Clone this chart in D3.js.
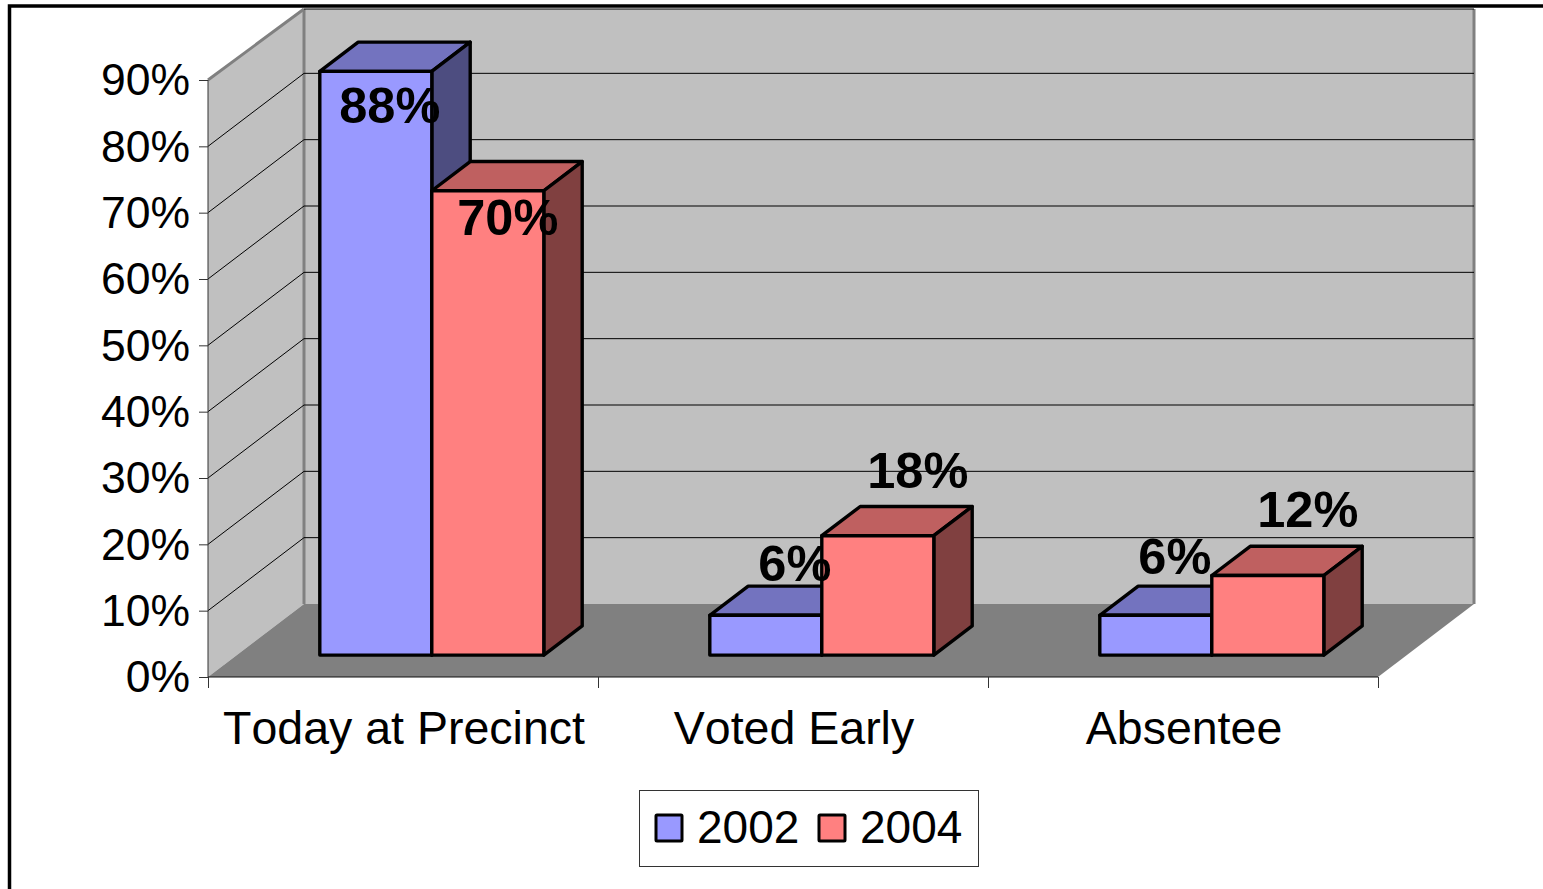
<!DOCTYPE html>
<html>
<head>
<meta charset="utf-8">
<script src="https://cdn.jsdelivr.net/npm/d3@7"></script>
<style>
html,body{margin:0;padding:0;background:#fff;overflow:hidden}
svg{display:block}
text{font-family:"Liberation Sans",Arial,sans-serif;fill:#000;font-kerning:none}
</style>
</head>
<body>
<svg id="c" width="1543" height="889"></svg>
<script>
const categories = ["Today at Precinct", "Voted Early", "Absentee"];
const seriesNames = ["2002", "2004"];
const values2002 = [88, 6, 6];
const values2004 = [70, 18, 12];
const yTicks = [0, 10, 20, 30, 40, 50, 60, 70, 80, 90];

const fills = {
  "2002": {front: "#9999ff", top: "#7373bf", side: "#4d4d80"},
  "2004": {front: "#ff8080", top: "#bf6060", side: "#804040"}
};
// hand-placed data labels: centre offset from bar centre, baseline offset from bar top
const labelOffsets = {
  "2002": [[14, 52], [29, -34], [19, -41]],
  "2004": [[20, 44], [40, -48], [40, -49]]
};

const svg = d3.select("#c");
const W = {x0: 208, x1: 1378, y0: 677, y1: 80, dx: 96, dy: 73, topInset: 2};

const x0 = d3.scaleBand().domain(categories).range([W.x0, W.x1]);
const x1 = d3.scaleBand().domain(seriesNames).range([83, 307]);
const y = d3.scaleLinear().domain([0, 90]).range([W.y0, W.y1]);
const pt = (x, v, d) => [x + W.dx * d, y(v) - W.dy * d];
const wallTop = x => { const p = pt(x, 90, 1); return [p[0], p[1] + W.topInset]; };
const poly = pts => d3.line()(pts) + "Z";
const FONT = '"Liberation Sans",Arial,sans-serif';

// walls and floor
const wallStroke = "#808080";
svg.append("path")
  .attr("d", poly([pt(W.x0, 0, 0), pt(W.x0, 90, 0), wallTop(W.x0), pt(W.x0, 0, 1)]))
  .attr("fill", "#c0c0c0");
svg.append("path")
  .attr("d", poly([pt(W.x0, 0, 1), wallTop(W.x0), wallTop(W.x1), pt(W.x1, 0, 1)]))
  .attr("fill", "#c0c0c0");
svg.append("path")
  .attr("d", poly([pt(W.x0, 0, 0), pt(W.x1, 0, 0), pt(W.x1, 0, 1), pt(W.x0, 0, 1)]))
  .attr("fill", "#808080");

// wall edges
const edges = svg.append("g").attr("stroke", wallStroke).attr("stroke-width", 3).attr("fill", "none");
edges.append("path").attr("d", d3.line()([pt(W.x0, 90, 0), wallTop(W.x0)]));
edges.append("path").attr("d", d3.line()([wallTop(W.x0), pt(W.x0, 0, 1)]));
edges.append("path").attr("d", d3.line()([wallTop(W.x1), pt(W.x1, 0, 1)]));

// gridlines
const grid = svg.append("g").attr("stroke", "#000").attr("stroke-width", 1).attr("fill", "none");
yTicks.forEach(t => {
  if (t === 0) return;
  if (t === 90) {
    grid.append("path").attr("d", d3.line()([wallTop(W.x0), wallTop(W.x1)]));
    return;
  }
  grid.append("path").attr("d", d3.line()([pt(W.x0, t, 1), pt(W.x1, t, 1)]));
  grid.append("path").attr("d", d3.line()([pt(W.x0, t, 0), pt(W.x0, t, 1)]));
});

// outer frame fragment
svg.append("path").attr("d", "M9.5,889V6H1543").attr("fill", "none").attr("stroke", "#000").attr("stroke-width", 3.5);

// axes
const yAxis = d3.axisLeft(y).tickValues(yTicks).tickSize(9).tickPadding(9).tickFormat(d => d + "%");
const gy = svg.append("g").attr("transform", `translate(${W.x0},0)`).call(yAxis);
gy.selectAll("text").attr("font-size", 44.5).attr("dy", "0.33em").style("font-family", FONT);
gy.selectAll("line").attr("stroke", "#333");
gy.select(".domain").attr("stroke", "#333").attr("d", `M0,${y(90)}V${y(0)}`);

const edgeScale = d3.scaleLinear().domain([0, categories.length]).range([W.x0, W.x1]);
const gxTicks = d3.axisBottom(edgeScale).ticks(categories.length).tickSize(11).tickFormat("");
const gt = svg.append("g").attr("transform", `translate(0,${W.y0})`).call(gxTicks);
gt.selectAll("line").attr("stroke", "#333");
gt.select(".domain").attr("stroke", "#111").attr("d", `M${W.x0},0H${W.x1}`);

const gxLabels = d3.axisBottom(x0).tickSize(0).tickPadding(0);
const gl = svg.append("g").attr("transform", `translate(1,744)`).call(gxLabels);
gl.select(".domain").remove();
gl.selectAll("text").attr("font-size", 46.5).attr("y", 0).attr("dy", 0).style("font-family", FONT);

// bars
const dFront = 0.30, dBack = 0.70;
const seriesValues = {"2002": values2002, "2004": values2004};
const rows = categories.map((c, i) => ({c, i}));
const groups = svg.selectAll("g.cat").data(rows).join("g").attr("class", "cat");
groups.each(function(r) {
  const g = d3.select(this);
  seriesNames.forEach(s => {
    const v = seriesValues[s][r.i];
    const a = x0(r.c) + x1(s), b = a + x1.bandwidth();
    const face = (pts, fill) => g.append("path").attr("d", poly(pts)).attr("fill", fill)
      .attr("stroke", "#000").attr("stroke-width", 3.4).attr("stroke-linejoin", "round");
    face([pt(a, v, dFront), pt(a, v, dBack), pt(b, v, dBack), pt(b, v, dFront)], fills[s].top);
    face([pt(b, 0, dFront), pt(b, v, dFront), pt(b, v, dBack), pt(b, 0, dBack)], fills[s].side);
    face([pt(a, 0, dFront), pt(a, v, dFront), pt(b, v, dFront), pt(b, 0, dFront)], fills[s].front);
  });
});

// data labels
groups.each(function(r) {
  const g = d3.select(this);
  seriesNames.forEach(s => {
    const v = seriesValues[s][r.i];
    const a = x0(r.c) + x1(s), b = a + x1.bandwidth();
    const [ox, oy] = labelOffsets[s][r.i];
    const top = pt((a + b) / 2, v, dFront);
    g.append("text").attr("x", top[0] + ox).attr("y", top[1] + oy)
      .attr("text-anchor", "middle").attr("font-size", 50.5).attr("font-weight", "bold").text(v + "%");
  });
});

// legend
const lg = svg.append("g");
lg.append("rect").attr("x", 639.5).attr("y", 790.5).attr("width", 339).attr("height", 76)
  .attr("fill", "#fff").attr("stroke", "#333").attr("stroke-width", 1);
const legendX = d3.scalePoint().domain(seriesNames).range([655, 818]);
seriesNames.forEach(s => {
  lg.append("rect").attr("x", legendX(s) + 1).attr("y", 815).attr("width", 26).attr("height", 26)
    .attr("fill", fills[s].front).attr("stroke", "#000").attr("stroke-width", 3).attr("rx", 1);
  lg.append("text").attr("x", legendX(s) + 42).attr("y", 843).attr("font-size", 46).text(s);
});
</script>
</body>
</html>
